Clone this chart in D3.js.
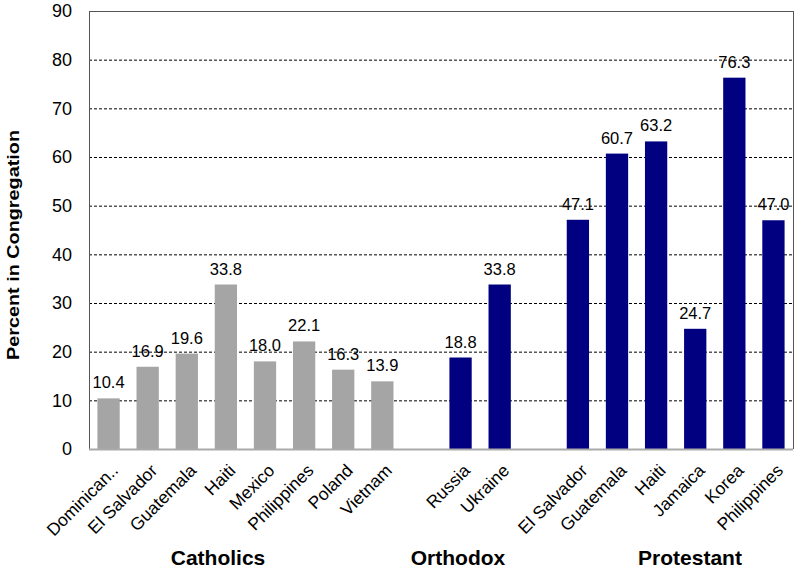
<!DOCTYPE html>
<html><head><meta charset="utf-8">
<script src="https://cdn.jsdelivr.net/npm/d3@7"></script>
<style>body{margin:0;background:#fff}svg{font-family:Arial,"Liberation Sans",sans-serif}</style>
</head><body><svg id="c" width="800" height="570"></svg>
<script>
const catholicCats = ["Dominican..","El Salvador","Guatemala","Haiti","Mexico","Philippines","Poland","Vietnam"];
const catholicVals = [10.4,16.9,19.6,33.8,18.0,22.1,16.3,13.9];
const orthodoxCats = ["Russia","Ukraine"];
const orthodoxVals = [18.8,33.8];
const protestantCats = ["El Salvador","Guatemala","Haiti","Jamaica","Korea","Philippines"];
const protestantVals = [47.1,60.7,63.2,24.7,76.3,47.0];
const groupNames = ["Catholics","Orthodox","Protestant"];
const yTicks = [0,10,20,30,40,50,60,70,80,90];

const svg = d3.select("#c");
const L=89, R=793, T=11, B=449;
const groups=[
 {name:groupNames[0],cats:catholicCats,vals:catholicVals,color:"#A5A5A5",lx:218},
 {name:groupNames[1],cats:orthodoxCats,vals:orthodoxVals,color:"#000080",lx:458},
 {name:groupNames[2],cats:protestantCats,vals:protestantVals,color:"#000080",lx:690}
];
const slots=[]; const data=[];
groups.forEach((g,gi)=>{
  if(gi>0) slots.push("gap"+gi);
  g.cats.forEach((c,i)=>{const k=g.name+"|"+c; slots.push(k); data.push({k,c,v:g.vals[i],color:g.color});});
});
const x=d3.scaleBand().domain(slots).range([L,R]).paddingInner(0.43).paddingOuter(0.215);
const y=d3.scaleLinear().domain([0,90]).range([B,T]);

// gridlines
svg.append("g").selectAll("line").data(yTicks.filter(t=>t>0&&t<90)).join("line")
 .attr("x1",L).attr("x2",R).attr("y1",d=>y(d)+0.5).attr("y2",d=>y(d)+0.5)
 .attr("stroke","#000").attr("stroke-dasharray","3,2").attr("stroke-width",1);
// border
svg.append("line").attr("x1",L).attr("x2",R).attr("y1",T+0.5).attr("y2",T+0.5).attr("stroke","#555");
svg.append("line").attr("x1",R+0.5).attr("x2",R+0.5).attr("y1",T).attr("y2",B).attr("stroke","#555");

// bars
svg.append("g").selectAll("rect").data(data).join("rect")
 .attr("x",d=>x(d.k)).attr("width",x.bandwidth()).attr("y",d=>y(d.v)).attr("height",d=>B-y(d.v)).attr("fill",d=>d.color);
// value labels
svg.append("g").selectAll("text").data(data).join("text")
 .attr("x",d=>x(d.k)+x.bandwidth()/2).attr("y",d=>y(d.v)-10).attr("text-anchor","middle")
 .attr("font-size",16.5).attr("fill","#000").text(d=>d.v.toFixed(1));

// y axis
const ya=svg.append("g").attr("transform",`translate(${L},0)`).call(d3.axisLeft(y).tickValues(yTicks).tickSize(0).tickPadding(17).tickFormat(d3.format("d")));
ya.select(".domain").attr("stroke","#555");
ya.selectAll("text").attr("font-size",18).attr("font-family","Arial,'Liberation Sans',sans-serif").attr("fill","#000");
// x axis line
svg.append("line").attr("x1",L).attr("x2",R).attr("y1",B+0.5).attr("y2",B+0.5).attr("stroke","#aaa").attr("stroke-width",2);

// category labels
svg.append("g").selectAll("text").data(data).join("text")
 .attr("transform",d=>`translate(${x(d.k)+x.bandwidth()/2+2},${B+14}) rotate(-45)`)
 .attr("text-anchor","end").attr("dy","0.7em").attr("font-size",17.5).attr("fill","#000").text(d=>d.c);

// group labels
svg.append("g").selectAll("text").data(groups).join("text")
 .attr("x",d=>d.lx).attr("y",565).attr("text-anchor","middle").attr("font-size",21).attr("font-weight","bold").text(d=>d.name);

// y title
svg.append("text").attr("transform","translate(19,245) rotate(-90)").attr("text-anchor","middle")
 .attr("font-size",17).attr("font-weight","bold").attr("textLength",230).attr("lengthAdjust","spacingAndGlyphs").text("Percent in Congregation");
</script></body></html>
